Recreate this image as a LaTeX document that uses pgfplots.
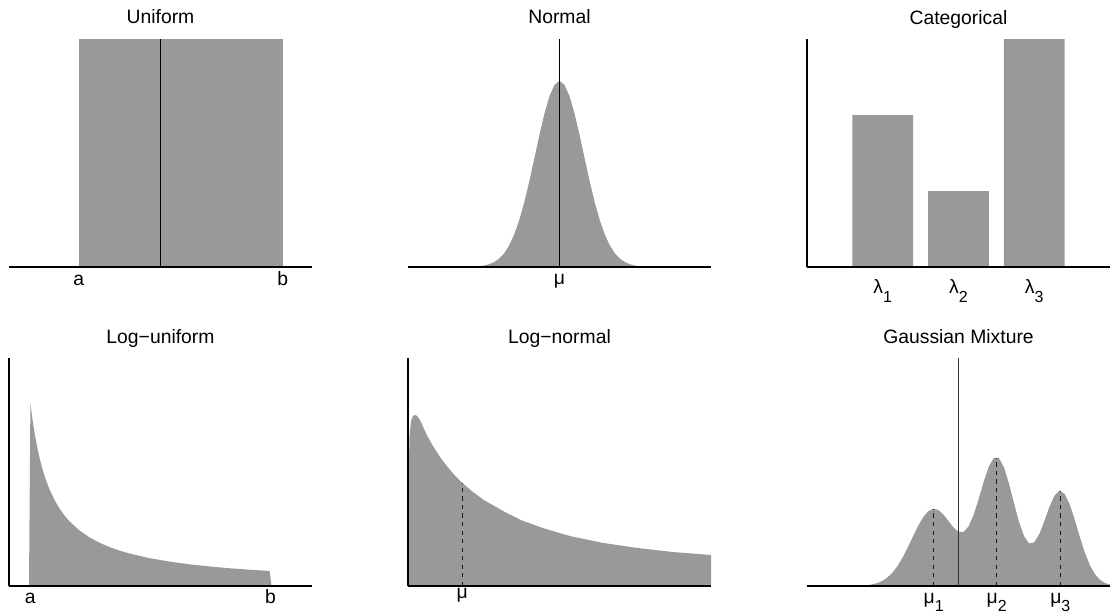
\documentclass[border=0pt]{standalone}
\usepackage{fontspec}
\setmainfont{Liberation Sans}
\usepackage{pgfplots}
\pgfplotsset{compat=1.18}
\definecolor{fillg}{HTML}{999999}
\newcommand\sub[1]{\raisebox{-6.3pt}{\fontsize{12}{12}\selectfont #1}}
\pgfplotsset{
  dist/.style={
    scale only axis, width=227.25pt, height=171pt, anchor=south west,
    axis line style={draw=none}, major tick length=0pt, tick style={draw=none},
    ytick=\empty, clip=false, ymin=0,
    every axis title/.style={at={(0.5,1)}, anchor=base, yshift=11.25pt, font=\fontsize{14.5}{17}\selectfont},
    xticklabel style={font=\fontsize{14.5}{17}\selectfont, anchor=base, inner sep=0pt},
  },
  axl/.style={black, line width=0.9pt},
  dsh/.style={black!90, line width=1pt, dash pattern=on 3.2pt off 3.2pt},
}
\begin{document}
\begin{tikzpicture}
\useasboundingbox (0,0) rectangle (832.5pt,461.25pt);
% ---------- Uniform
\begin{axis}[dist, at={(6.75pt,261pt)}, title={Uniform},
  xmin=-1.5, xmax=1.5, ymax=1,
  xtick={-0.81,1.21}, xticklabels={a,b}, xticklabel style={yshift=-13.5pt}]
\addplot[fill=fillg, draw=none] coordinates {(-0.81,0) (-0.81,1) (1.21,1) (1.21,0)} -- cycle;
\addplot[axl] coordinates {(-1.5,0) (1.5,0)};
\addplot[axl] coordinates {(0,0) (0,1)};
\end{axis}
% ---------- Normal
\begin{axis}[dist, at={(306pt,261pt)}, title={Normal},
  xmin=-1.5, xmax=1.5, ymax=1,
  xtick={0}, xticklabels={μ}, xticklabel style={yshift=-12.8pt}]
\addplot[fill=fillg, draw=none] coordinates {
(-1.0,0) (-0.9,0.0007) (-0.8,0.0032) (-0.75,0.0062) (-0.7,0.0116) (-0.65,0.0208)
(-0.6,0.0358) (-0.55,0.0591) (-0.5,0.0932) (-0.45,0.1407) (-0.4,0.2035) (-0.35,0.2818)
(-0.3,0.3736) (-0.25,0.4743) (-0.2,0.5767) (-0.15,0.6712) (-0.1,0.7482) (-0.05,0.7985)
(0,0.816)
(0.05,0.7985) (0.1,0.7482) (0.15,0.6712) (0.2,0.5767) (0.25,0.4743) (0.3,0.3736)
(0.35,0.2818) (0.4,0.2035) (0.45,0.1407) (0.5,0.0932) (0.55,0.0591) (0.6,0.0358)
(0.65,0.0208) (0.7,0.0116) (0.75,0.0062) (0.8,0.0032) (0.9,0.0007) (1.0,0)
} \closedcycle;
\addplot[axl] coordinates {(-1.5,0) (1.5,0)};
\addplot[axl] coordinates {(0,0) (0,1)};
\end{axis}
% ---------- Categorical
\begin{axis}[dist, at={(605.25pt,261pt)}, title={Categorical},
  xmin=0, xmax=4, ymax=3,
  xtick={1,2,3}, xticklabels={{λ\sub{1}},{λ\sub{2}},{λ\sub{3}}}, xticklabel style={yshift=-20pt}]
\addplot[ybar, bar width=45.45pt, fill=fillg, draw=none] coordinates {(1,2) (2,1) (3,3)};
\addplot[axl] coordinates {(0,0) (4,0)};
\addplot[axl] coordinates {(0,0) (0,3)};
\end{axis}
% ---------- Log-uniform
\begin{axis}[dist, at={(6.75pt,21.75pt)}, title={Log−uniform},
  xmin=0, xmax=15, ymax=1,
  xtick={1.05,12.95}, xticklabels={a,b}, xticklabel style={yshift=-12.75pt}]
\addplot[fill=fillg, draw=none] coordinates {
(0.99,0) (1.06,0.8019) (1.1,0.7727) (1.15,0.7391) (1.2,0.7083) (1.3,0.6538) (1.4,0.6071)
(1.5,0.5667) (1.65,0.5152) (1.8,0.4722) (2.0,0.425) (2.25,0.3778) (2.5,0.34) (2.75,0.3091)
(3.0,0.2833) (3.5,0.2429) (4.0,0.2125) (4.5,0.1889) (5.0,0.17) (5.5,0.1545) (6.0,0.1417)
(7.0,0.1214) (8.0,0.1063) (9.0,0.0944) (10.0,0.085) (11.0,0.0773) (12.0,0.0708)
(12.9,0.0659) (13.0,0)
} -- cycle;
\addplot[axl] coordinates {(0,0) (15,0)};
\addplot[axl] coordinates {(0,0) (0,1)};
\end{axis}
% ---------- Log-normal
\begin{axis}[dist, at={(306pt,21.75pt)}, title={Log−normal},
  xmin=0, xmax=10, ymax=1,
  xtick={1.792}, xticklabels={μ}, xticklabel style={yshift=-9.4pt}]
\addplot[fill=fillg, draw=none] coordinates {
(0,0) (0.023,0.48) (0.05,0.66) (0.1,0.724) (0.165,0.746) (0.254,0.75) (0.33,0.741)
(0.429,0.719) (0.528,0.689) (0.637,0.658) (0.825,0.614) (1.079,0.561) (1.32,0.52)
(1.551,0.484) (1.792,0.452) (2.145,0.412) (2.508,0.377) (3.135,0.329) (3.729,0.289)
(4.455,0.254) (5.347,0.219) (6.436,0.189) (7.558,0.167) (8.746,0.149) (10,0.136) (10,0)
} -- cycle;
\addplot[dsh] coordinates {(1.792,0) (1.792,0.452)};
\addplot[axl] coordinates {(0,0) (10,0)};
\addplot[axl] coordinates {(0,0) (0,1)};
\end{axis}
% ---------- Gaussian Mixture
\begin{axis}[dist, at={(605.25pt,21.75pt)}, title={Gaussian Mixture},
  xmin=-1.5, xmax=1.5, ymax=1,
  xtick={-0.246,0.378,1.008}, xticklabels={{μ\sub{1}},{μ\sub{2}},{μ\sub{3}}}, xticklabel style={yshift=-13.1pt}]
\addplot[fill=fillg, draw=none] coordinates {
(-1.5,0) (-1.2,0.0001) (-1.0,0.0009) (-0.95,0.0018) (-0.9,0.0038) (-0.85,0.0073) (-0.8,0.0134)
(-0.75,0.0234) (-0.7,0.0387) (-0.65,0.0607) (-0.6,0.0904) (-0.55,0.1278) (-0.5,0.1715)
(-0.45,0.2182) (-0.4,0.2634) (-0.35,0.3018) (-0.3,0.3282) (-0.25,0.3391) (-0.2,0.3334)
(-0.15,0.3137) (-0.1,0.2853) (-0.05,0.2568) (0,0.2377) (0.05,0.2372) (0.1,0.2616)
(0.15,0.3119) (0.2,0.3820) (0.25,0.4586) (0.3,0.5243) (0.35,0.5624) (0.4,0.5615)
(0.45,0.5207) (0.5,0.4489) (0.55,0.3623) (0.6,0.2798) (0.65,0.2176) (0.7,0.1869)
(0.75,0.1914) (0.8,0.2275) (0.85,0.2846) (0.9,0.3468) (0.95,0.3961) (1.0,0.4178)
(1.05,0.4046) (1.1,0.3590) (1.15,0.2918) (1.2,0.2170) (1.25,0.1478) (1.3,0.0921)
(1.35,0.0525) (1.4,0.0274) (1.45,0.0131) (1.5,0.0057)
} \closedcycle;
\addplot[dsh] coordinates {(-0.246,0) (-0.246,0.339)};
\addplot[dsh] coordinates {(0.378,0) (0.378,0.563)};
\addplot[dsh] coordinates {(1.008,0) (1.008,0.418)};
\addplot[axl] coordinates {(-1.5,0) (1.5,0)};
\addplot[axl, black!80] coordinates {(0,0) (0,1)};
\end{axis}
\end{tikzpicture}
\end{document}
